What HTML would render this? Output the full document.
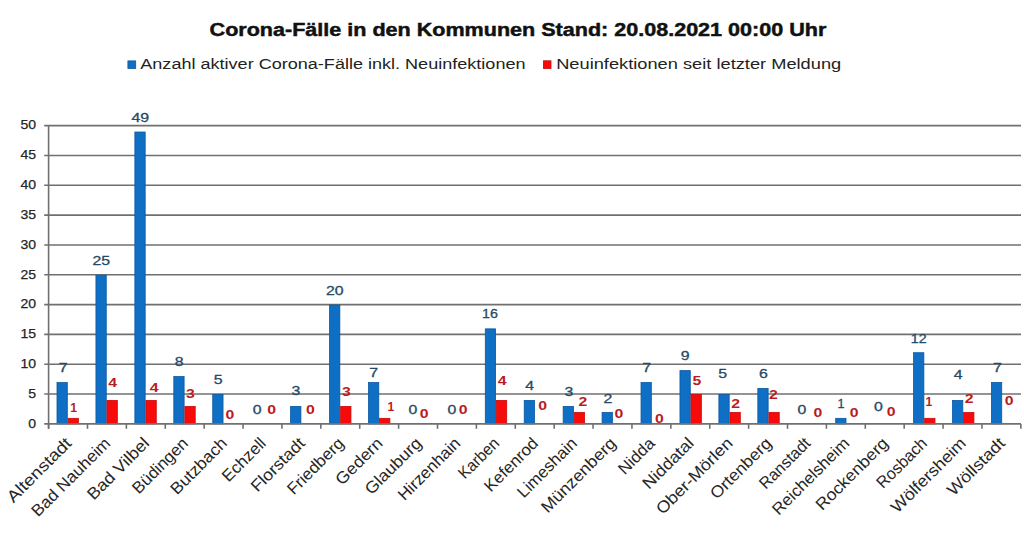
<!DOCTYPE html>
<html><head><meta charset="utf-8">
<style>
html,body{margin:0;padding:0;background:#fff;width:1024px;height:534px;overflow:hidden;}
svg{display:block;}
text{font-family:"Liberation Sans",sans-serif;}
.title{font-size:17.5px;font-weight:bold;fill:#111;stroke:#111;stroke-width:0.45px;}
.leg{font-size:15.5px;fill:#222;}
.yl{font-size:13px;fill:#262626;stroke:#262626;stroke-width:0.25px;text-anchor:end;}
.bl{font-size:12.2px;fill:#284a66;stroke:#284a66;stroke-width:0.3px;text-anchor:middle;}
.rl{font-size:12.2px;font-weight:bold;fill:#bc1a22;text-anchor:middle;}
.xl{font-size:16.5px;fill:#262626;text-anchor:end;}
.grid line{stroke:#707070;stroke-width:1.6;}
.b{fill:#0e6fc4;stroke:#0a58a0;stroke-width:0.8;}
.r{fill:#f70a0a;stroke:#c80a0a;stroke-width:0.8;}
</style></head><body>
<svg width="1024" height="534" viewBox="0 0 1024 534">
<text class="title" x="517.95" y="35.8" text-anchor="middle" textLength="616.7" lengthAdjust="spacingAndGlyphs">Corona-Fälle in den Kommunen Stand: 20.08.2021 00:00 Uhr</text>
<rect x="127.9" y="60.9" width="7.8" height="7.6" fill="#0e6fc4" stroke="#0a58a0" stroke-width="0.8"/>
<text class="leg" x="140.3" y="69" textLength="385.2" lengthAdjust="spacingAndGlyphs">Anzahl aktiver Corona-Fälle inkl. Neuinfektionen</text>
<rect x="543.4" y="60.8" width="7.6" height="7.7" fill="#f70a0a" stroke="#c80a0a" stroke-width="0.8"/>
<text class="leg" x="556.2" y="69" textLength="285" lengthAdjust="spacingAndGlyphs">Neuinfektionen seit letzter Meldung</text>
<g class="grid"><line x1="44.2" y1="394.07" x2="1021" y2="394.07"/><line x1="44.2" y1="364.25" x2="1021" y2="364.25"/><line x1="44.2" y1="334.42" x2="1021" y2="334.42"/><line x1="44.2" y1="304.60" x2="1021" y2="304.60"/><line x1="44.2" y1="274.77" x2="1021" y2="274.77"/><line x1="44.2" y1="244.95" x2="1021" y2="244.95"/><line x1="44.2" y1="215.12" x2="1021" y2="215.12"/><line x1="44.2" y1="185.30" x2="1021" y2="185.30"/><line x1="44.2" y1="155.47" x2="1021" y2="155.47"/><line x1="44.2" y1="125.65" x2="1021" y2="125.65"/></g>
<text class="yl" x="36.1" y="427.70" textLength="7.81" lengthAdjust="spacingAndGlyphs">0</text><text class="yl" x="36.1" y="397.88" textLength="7.81" lengthAdjust="spacingAndGlyphs">5</text><text class="yl" x="36.1" y="368.05" textLength="15.62" lengthAdjust="spacingAndGlyphs">10</text><text class="yl" x="36.1" y="338.22" textLength="15.62" lengthAdjust="spacingAndGlyphs">15</text><text class="yl" x="36.1" y="308.40" textLength="15.62" lengthAdjust="spacingAndGlyphs">20</text><text class="yl" x="36.1" y="278.57" textLength="15.62" lengthAdjust="spacingAndGlyphs">25</text><text class="yl" x="36.1" y="248.75" textLength="15.62" lengthAdjust="spacingAndGlyphs">30</text><text class="yl" x="36.1" y="218.92" textLength="15.62" lengthAdjust="spacingAndGlyphs">35</text><text class="yl" x="36.1" y="189.10" textLength="15.62" lengthAdjust="spacingAndGlyphs">40</text><text class="yl" x="36.1" y="159.27" textLength="15.62" lengthAdjust="spacingAndGlyphs">45</text><text class="yl" x="36.1" y="129.45" textLength="15.62" lengthAdjust="spacingAndGlyphs">50</text>
<rect class="b" x="57.00" y="382.54" width="10.30" height="41.35"/><rect class="r" x="68.10" y="418.33" width="10.30" height="5.56"/><rect class="b" x="95.94" y="275.17" width="10.30" height="148.72"/><rect class="r" x="107.03" y="400.44" width="10.30" height="23.46"/><rect class="b" x="134.87" y="132.02" width="10.30" height="291.88"/><rect class="r" x="145.97" y="400.44" width="10.30" height="23.46"/><rect class="b" x="173.81" y="376.58" width="10.30" height="47.32"/><rect class="r" x="184.91" y="406.40" width="10.30" height="17.50"/><rect class="b" x="212.74" y="394.47" width="10.30" height="29.43"/><rect class="b" x="290.61" y="406.40" width="10.30" height="17.50"/><rect class="b" x="329.55" y="305.00" width="10.30" height="118.90"/><rect class="r" x="340.65" y="406.40" width="10.30" height="17.50"/><rect class="b" x="368.48" y="382.54" width="10.30" height="41.35"/><rect class="r" x="379.58" y="418.33" width="10.30" height="5.56"/><rect class="b" x="485.29" y="328.86" width="10.30" height="95.04"/><rect class="r" x="496.39" y="400.44" width="10.30" height="23.46"/><rect class="b" x="524.22" y="400.44" width="10.30" height="23.46"/><rect class="b" x="563.15" y="406.40" width="10.30" height="17.50"/><rect class="r" x="574.25" y="412.37" width="10.30" height="11.53"/><rect class="b" x="602.09" y="412.37" width="10.30" height="11.53"/><rect class="b" x="641.03" y="382.54" width="10.30" height="41.35"/><rect class="b" x="679.96" y="370.61" width="10.30" height="53.29"/><rect class="r" x="691.06" y="394.47" width="10.30" height="29.43"/><rect class="b" x="718.89" y="394.47" width="10.30" height="29.43"/><rect class="r" x="730.00" y="412.37" width="10.30" height="11.53"/><rect class="b" x="757.83" y="388.51" width="10.30" height="35.39"/><rect class="r" x="768.93" y="412.37" width="10.30" height="11.53"/><rect class="b" x="835.70" y="418.33" width="10.30" height="5.56"/><rect class="b" x="913.57" y="352.72" width="10.30" height="71.18"/><rect class="r" x="924.67" y="418.33" width="10.30" height="5.56"/><rect class="b" x="952.51" y="400.44" width="10.30" height="23.46"/><rect class="r" x="963.61" y="412.37" width="10.30" height="11.53"/><rect class="b" x="991.44" y="382.54" width="10.30" height="41.35"/>
<g class="grid"><line x1="44.2" y1="423.90" x2="1021" y2="423.90"/><line x1="48.6" y1="125.65" x2="48.6" y2="428.8"/><line x1="48.60" y1="423.9" x2="48.60" y2="428.8"/><line x1="87.49" y1="423.9" x2="87.49" y2="428.8"/><line x1="126.38" y1="423.9" x2="126.38" y2="428.8"/><line x1="165.27" y1="423.9" x2="165.27" y2="428.8"/><line x1="204.16" y1="423.9" x2="204.16" y2="428.8"/><line x1="243.05" y1="423.9" x2="243.05" y2="428.8"/><line x1="281.94" y1="423.9" x2="281.94" y2="428.8"/><line x1="320.83" y1="423.9" x2="320.83" y2="428.8"/><line x1="359.72" y1="423.9" x2="359.72" y2="428.8"/><line x1="398.61" y1="423.9" x2="398.61" y2="428.8"/><line x1="437.50" y1="423.9" x2="437.50" y2="428.8"/><line x1="476.39" y1="423.9" x2="476.39" y2="428.8"/><line x1="515.28" y1="423.9" x2="515.28" y2="428.8"/><line x1="554.17" y1="423.9" x2="554.17" y2="428.8"/><line x1="593.06" y1="423.9" x2="593.06" y2="428.8"/><line x1="631.95" y1="423.9" x2="631.95" y2="428.8"/><line x1="670.84" y1="423.9" x2="670.84" y2="428.8"/><line x1="709.73" y1="423.9" x2="709.73" y2="428.8"/><line x1="748.62" y1="423.9" x2="748.62" y2="428.8"/><line x1="787.51" y1="423.9" x2="787.51" y2="428.8"/><line x1="826.40" y1="423.9" x2="826.40" y2="428.8"/><line x1="865.29" y1="423.9" x2="865.29" y2="428.8"/><line x1="904.18" y1="423.9" x2="904.18" y2="428.8"/><line x1="943.07" y1="423.9" x2="943.07" y2="428.8"/><line x1="981.96" y1="423.9" x2="981.96" y2="428.8"/><line x1="1020.85" y1="423.9" x2="1020.85" y2="428.8"/></g>
<text class="bl" x="63.25" y="371.70" textLength="8.80" lengthAdjust="spacingAndGlyphs">7</text><text class="rl" x="73.55" y="411.70" textLength="6.80" lengthAdjust="spacingAndGlyphs">1</text><text class="bl" x="101.20" y="264.50" textLength="17.60" lengthAdjust="spacingAndGlyphs">25</text><text class="rl" x="112.60" y="386.70" textLength="8.80" lengthAdjust="spacingAndGlyphs">4</text><text class="bl" x="140.20" y="121.70" textLength="17.60" lengthAdjust="spacingAndGlyphs">49</text><text class="rl" x="154.05" y="392.00" textLength="8.80" lengthAdjust="spacingAndGlyphs">4</text><text class="bl" x="179.10" y="366.00" textLength="8.80" lengthAdjust="spacingAndGlyphs">8</text><text class="rl" x="190.50" y="397.90" textLength="8.80" lengthAdjust="spacingAndGlyphs">3</text><text class="bl" x="218.10" y="383.70" textLength="8.80" lengthAdjust="spacingAndGlyphs">5</text><text class="rl" x="229.85" y="419.00" textLength="8.80" lengthAdjust="spacingAndGlyphs">0</text><text class="bl" x="257.25" y="413.70" textLength="8.80" lengthAdjust="spacingAndGlyphs">0</text><text class="rl" x="271.60" y="413.70" textLength="8.80" lengthAdjust="spacingAndGlyphs">0</text><text class="bl" x="295.80" y="395.40" textLength="8.80" lengthAdjust="spacingAndGlyphs">3</text><text class="rl" x="310.40" y="413.70" textLength="8.80" lengthAdjust="spacingAndGlyphs">0</text><text class="bl" x="334.75" y="294.50" textLength="17.60" lengthAdjust="spacingAndGlyphs">20</text><text class="rl" x="346.30" y="396.00" textLength="8.80" lengthAdjust="spacingAndGlyphs">3</text><text class="bl" x="373.65" y="377.00" textLength="8.80" lengthAdjust="spacingAndGlyphs">7</text><text class="rl" x="390.90" y="411.40" textLength="6.80" lengthAdjust="spacingAndGlyphs">1</text><text class="bl" x="412.85" y="414.10" textLength="8.80" lengthAdjust="spacingAndGlyphs">0</text><text class="rl" x="424.20" y="417.70" textLength="8.80" lengthAdjust="spacingAndGlyphs">0</text><text class="bl" x="452.00" y="414.10" textLength="8.80" lengthAdjust="spacingAndGlyphs">0</text><text class="rl" x="463.15" y="414.10" textLength="8.80" lengthAdjust="spacingAndGlyphs">0</text><text class="bl" x="489.95" y="318.00" textLength="15.80" lengthAdjust="spacingAndGlyphs">16</text><text class="rl" x="502.18" y="385.00" textLength="8.80" lengthAdjust="spacingAndGlyphs">4</text><text class="bl" x="529.60" y="390.00" textLength="8.80" lengthAdjust="spacingAndGlyphs">4</text><text class="rl" x="542.67" y="410.00" textLength="8.80" lengthAdjust="spacingAndGlyphs">0</text><text class="bl" x="568.80" y="395.60" textLength="8.80" lengthAdjust="spacingAndGlyphs">3</text><text class="rl" x="582.90" y="405.60" textLength="8.80" lengthAdjust="spacingAndGlyphs">2</text><text class="bl" x="607.90" y="402.50" textLength="8.80" lengthAdjust="spacingAndGlyphs">2</text><text class="rl" x="618.80" y="417.50" textLength="8.80" lengthAdjust="spacingAndGlyphs">0</text><text class="bl" x="646.70" y="372.40" textLength="8.80" lengthAdjust="spacingAndGlyphs">7</text><text class="rl" x="659.35" y="422.60" textLength="8.80" lengthAdjust="spacingAndGlyphs">0</text><text class="bl" x="685.20" y="359.90" textLength="8.80" lengthAdjust="spacingAndGlyphs">9</text><text class="rl" x="696.85" y="385.20" textLength="8.80" lengthAdjust="spacingAndGlyphs">5</text><text class="bl" x="722.75" y="378.40" textLength="8.80" lengthAdjust="spacingAndGlyphs">5</text><text class="rl" x="735.65" y="407.80" textLength="8.80" lengthAdjust="spacingAndGlyphs">2</text><text class="bl" x="763.35" y="378.40" textLength="8.80" lengthAdjust="spacingAndGlyphs">6</text><text class="rl" x="773.35" y="399.00" textLength="8.80" lengthAdjust="spacingAndGlyphs">2</text><text class="bl" x="802.00" y="414.00" textLength="8.80" lengthAdjust="spacingAndGlyphs">0</text><text class="rl" x="817.80" y="416.90" textLength="8.80" lengthAdjust="spacingAndGlyphs">0</text><text class="bl" x="840.95" y="408.10" textLength="7.00" lengthAdjust="spacingAndGlyphs">1</text><text class="rl" x="854.05" y="416.60" textLength="8.80" lengthAdjust="spacingAndGlyphs">0</text><text class="bl" x="878.40" y="411.40" textLength="8.80" lengthAdjust="spacingAndGlyphs">0</text><text class="rl" x="891.10" y="415.80" textLength="8.80" lengthAdjust="spacingAndGlyphs">0</text><text class="bl" x="918.70" y="342.50" textLength="15.80" lengthAdjust="spacingAndGlyphs">12</text><text class="rl" x="928.85" y="405.80" textLength="6.80" lengthAdjust="spacingAndGlyphs">1</text><text class="bl" x="958.05" y="379.00" textLength="8.80" lengthAdjust="spacingAndGlyphs">4</text><text class="rl" x="969.25" y="402.80" textLength="8.80" lengthAdjust="spacingAndGlyphs">2</text><text class="bl" x="997.35" y="372.10" textLength="8.80" lengthAdjust="spacingAndGlyphs">7</text><text class="rl" x="1009.25" y="405.20" textLength="8.80" lengthAdjust="spacingAndGlyphs">0</text>
<text class="xl" transform="translate(72.55,444.30) rotate(-45)" x="0" y="0" textLength="83.6" lengthAdjust="spacingAndGlyphs">Altenstadt</text><text class="xl" transform="translate(111.44,444.30) rotate(-45)" x="0" y="0" textLength="103.7" lengthAdjust="spacingAndGlyphs">Bad Nauheim</text><text class="xl" transform="translate(150.32,444.30) rotate(-45)" x="0" y="0" textLength="79.9" lengthAdjust="spacingAndGlyphs">Bad Vilbel</text><text class="xl" transform="translate(189.22,444.30) rotate(-45)" x="0" y="0" textLength="71.3" lengthAdjust="spacingAndGlyphs">Büdingen</text><text class="xl" transform="translate(228.10,444.30) rotate(-45)" x="0" y="0" textLength="72.3" lengthAdjust="spacingAndGlyphs">Butzbach</text><text class="xl" transform="translate(267.00,444.30) rotate(-45)" x="0" y="0" textLength="54.5" lengthAdjust="spacingAndGlyphs">Echzell</text><text class="xl" transform="translate(305.88,444.30) rotate(-45)" x="0" y="0" textLength="68.6" lengthAdjust="spacingAndGlyphs">Florstadt</text><text class="xl" transform="translate(344.78,444.30) rotate(-45)" x="0" y="0" textLength="72.3" lengthAdjust="spacingAndGlyphs">Friedberg</text><text class="xl" transform="translate(383.67,444.30) rotate(-45)" x="0" y="0" textLength="58.8" lengthAdjust="spacingAndGlyphs">Gedern</text><text class="xl" transform="translate(422.56,444.30) rotate(-45)" x="0" y="0" textLength="72.3" lengthAdjust="spacingAndGlyphs">Glauburg</text><text class="xl" transform="translate(461.44,444.30) rotate(-45)" x="0" y="0" textLength="80.7" lengthAdjust="spacingAndGlyphs">Hirzenhain</text><text class="xl" transform="translate(500.34,444.30) rotate(-45)" x="0" y="0" textLength="50.2" lengthAdjust="spacingAndGlyphs">Karben</text><text class="xl" transform="translate(539.23,444.30) rotate(-45)" x="0" y="0" textLength="68.4" lengthAdjust="spacingAndGlyphs">Kefenrod</text><text class="xl" transform="translate(578.12,444.30) rotate(-45)" x="0" y="0" textLength="76.9" lengthAdjust="spacingAndGlyphs">Limeshain</text><text class="xl" transform="translate(617.01,444.30) rotate(-45)" x="0" y="0" textLength="98.1" lengthAdjust="spacingAndGlyphs">Münzenberg</text><text class="xl" transform="translate(655.90,444.30) rotate(-45)" x="0" y="0" textLength="44.1" lengthAdjust="spacingAndGlyphs">Nidda</text><text class="xl" transform="translate(694.79,444.30) rotate(-45)" x="0" y="0" textLength="64.7" lengthAdjust="spacingAndGlyphs">Niddatal</text><text class="xl" transform="translate(733.68,444.30) rotate(-45)" x="0" y="0" textLength="100.4" lengthAdjust="spacingAndGlyphs">Ober-Mörlen</text><text class="xl" transform="translate(772.57,444.30) rotate(-45)" x="0" y="0" textLength="78.8" lengthAdjust="spacingAndGlyphs">Ortenberg</text><text class="xl" transform="translate(811.46,444.30) rotate(-45)" x="0" y="0" textLength="64.7" lengthAdjust="spacingAndGlyphs">Ranstadt</text><text class="xl" transform="translate(850.35,444.30) rotate(-45)" x="0" y="0" textLength="101.3" lengthAdjust="spacingAndGlyphs">Reichelsheim</text><text class="xl" transform="translate(889.24,444.30) rotate(-45)" x="0" y="0" textLength="94.7" lengthAdjust="spacingAndGlyphs">Rockenberg</text><text class="xl" transform="translate(928.13,444.30) rotate(-45)" x="0" y="0" textLength="63.7" lengthAdjust="spacingAndGlyphs">Rosbach</text><text class="xl" transform="translate(967.02,444.30) rotate(-45)" x="0" y="0" textLength="98.2" lengthAdjust="spacingAndGlyphs">Wölfersheim</text><text class="xl" transform="translate(1005.91,444.30) rotate(-45)" x="0" y="0" textLength="73.8" lengthAdjust="spacingAndGlyphs">Wöllstadt</text>
</svg>
</body></html>
